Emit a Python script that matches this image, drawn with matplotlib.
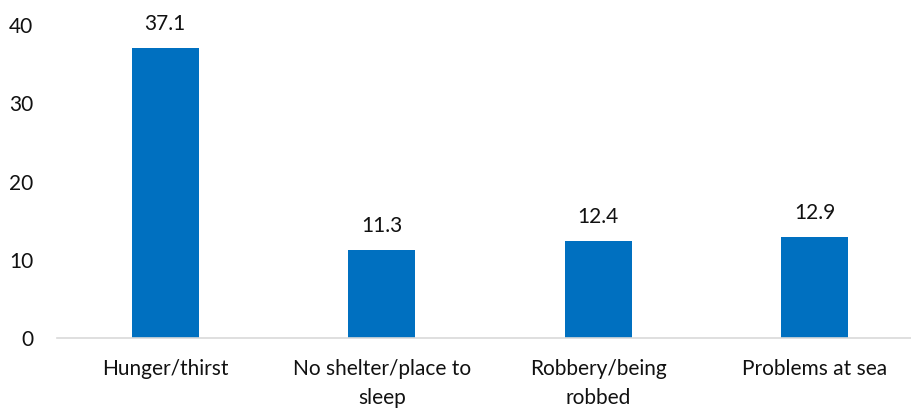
import matplotlib
matplotlib.use("Agg")
import matplotlib.pyplot as plt

categories = ["Hunger/thirst", "No shelter/place to\nsleep", "Robbery/being\nrobbed", "Problems at sea"]
values = [37.1, 11.3, 12.4, 12.9]
yticks = [0, 10, 20, 30, 40]

plt.rcParams['font.family'] = ['Lato', 'DejaVu Sans']

fig = plt.figure(figsize=(9.12, 4.09), dpi=100)
ax = fig.add_axes([57/912, 1 - 338/409, 866/912, 313/409])

x = list(range(len(categories)))
bars = ax.bar(x, values, width=0.31, color='#0070C0')
ax.set_xlim(-0.5, len(categories) - 0.5)
ax.set_ylim(0, 40)
ax.set_yticks(yticks)
ax.set_yticklabels([str(t) for t in yticks])
ax.set_xticks(x)
ax.set_xticklabels(categories, linespacing=1.55)

for s in ['top', 'right', 'left']:
    ax.spines[s].set_visible(False)
ax.spines['bottom'].set_color('#D9D9D9')
ax.spines['bottom'].set_linewidth(1.2)
ax.tick_params(axis='both', length=0, labelsize=15, colors='#111111')
ax.tick_params(axis='y', pad=17)
ax.tick_params(axis='x', pad=15)

for b, v in zip(bars, values):
    ax.annotate(f"{v:.1f}", (b.get_x() + b.get_width() / 2, v),
                xytext=(0, 10), textcoords='offset points',
                ha='center', va='bottom', fontsize=15, color='#111111')

fig.savefig("out.png", dpi=100)
